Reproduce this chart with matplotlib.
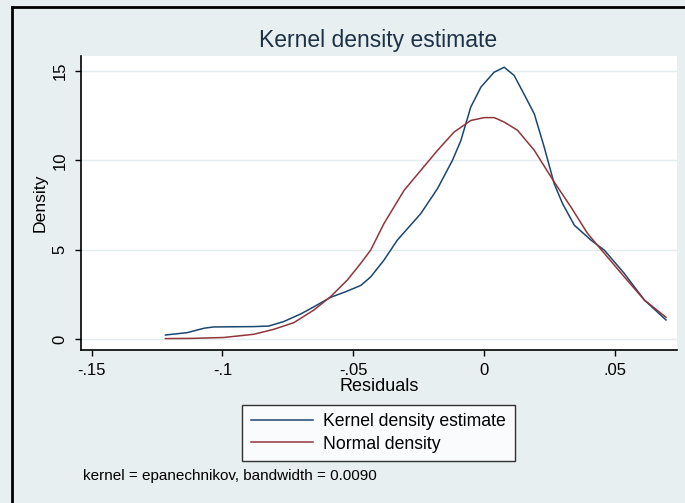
import matplotlib
matplotlib.use("Agg")
import matplotlib.pyplot as plt
from matplotlib.lines import Line2D

plt.rcParams['font.family'] = ['Liberation Sans', 'DejaVu Sans']

# values
kde_x = [-0.1218, -0.1135, -0.107, -0.1034, -0.088, -0.0823, -0.0766, -0.070,
         -0.065, -0.0586, -0.0529, -0.047, -0.0433, -0.0382, -0.0331, -0.0241,
         -0.0177, -0.012, -0.0088, -0.005, -0.0011, 0.0039, 0.0078, 0.0116,
         0.0154, 0.0193, 0.0231, 0.0269, 0.0301, 0.0346, 0.041, 0.0461,
         0.0537, 0.0614, 0.0697]
kde_y = [0.22, 0.35, 0.6, 0.67, 0.69, 0.72, 0.97, 1.40, 1.8, 2.33, 2.64, 3.0,
         3.47, 4.41, 5.53, 7.02, 8.42, 10.0, 11.1, 12.98, 14.1, 14.93, 15.21,
         14.75, 13.7, 12.6, 10.74, 8.7, 7.58, 6.37, 5.53, 4.97, 3.67, 2.18, 1.06]

norm_x = [-0.1218, -0.112, -0.0995, -0.088, -0.0803, -0.0727, -0.065, -0.0586,
          -0.0522, -0.0471, -0.0433, -0.0382, -0.0305, -0.0241, -0.0177,
          -0.0114, -0.005, 0.0001, 0.004, 0.0078, 0.0129, 0.0193, 0.0269,
          0.0333, 0.0397, 0.0461, 0.0537, 0.0614, 0.0697]
norm_y = [0.02, 0.03, 0.08, 0.26, 0.54, 0.91, 1.62, 2.37, 3.3, 4.23, 4.97,
          6.46, 8.32, 9.44, 10.56, 11.58, 12.23, 12.39, 12.39, 12.14, 11.68,
          10.56, 8.79, 7.39, 5.9, 4.79, 3.48, 2.18, 1.21]

xticks = [-0.15, -0.1, -0.05, 0, 0.05]
xtick_labels = ['-.15', '-.1', '-.05', '0', '.05']
yticks = [0, 5, 10, 15]

bg = '#e8eff1'
navy = '#1a476f'
maroon = '#90353b'

fig = plt.figure(figsize=(6.85, 5.03), dpi=100, facecolor=bg)
ax = fig.add_axes([81 / 685, 1 - 350 / 503, 596 / 685, 294 / 503])
ax.set_facecolor('white')

ax.plot(kde_x, kde_y, color=navy, lw=1.1, label='Kernel density estimate')
ax.plot(norm_x, norm_y, color=maroon, lw=1.1, label='Normal density')

ax.set_xlim(-0.1541, 0.0739)
ax.set_ylim(-0.62, 15.84)
ax.set_xticks(xticks)
ax.set_xticklabels(xtick_labels)
ax.set_yticks(yticks)
ax.set_yticklabels([str(v) for v in yticks], rotation=90, va='center')
ax.tick_params(axis='both', direction='out', length=4.5, width=1, labelsize=12,
               color='black', pad=5)
ax.grid(axis='y', color='#e3ecee', lw=1)
ax.set_axisbelow(True)
for s in ['top', 'right']:
    ax.spines[s].set_visible(False)
for s in ['left', 'bottom']:
    ax.spines[s].set_linewidth(1.2)

ax.set_xlabel('Residuals', fontsize=13, labelpad=0)
ax.set_ylabel('Density', fontsize=12.6, labelpad=4)
fig.text(378 / 685, 1 - 40 / 503, 'Kernel density estimate', fontsize=16.5,
         color='#1e3246', ha='center', va='center')

leg = fig.legend(loc='center', bbox_to_anchor=(378.5 / 685, 1 - 433 / 503),
                 fontsize=12.7, frameon=True, fancybox=False, handlelength=3.5,
                 handletextpad=0.6, borderpad=0.5, labelspacing=0.3)
leg.get_frame().set_edgecolor('black')
leg.get_frame().set_linewidth(1)

fig.text(83 / 685, 1 - 476 / 503, 'kernel = epanechnikov, bandwidth = 0.0090',
         fontsize=11, ha='left', va='center')

# frame lines at top and left edge
fig.add_artist(Line2D([11.5 / 685, 1], [1 - 6.5 / 503, 1 - 6.5 / 503],
                      transform=fig.transFigure, color='black', lw=2))
fig.add_artist(Line2D([11.5 / 685, 11.5 / 685], [0, 1 - 6.5 / 503],
                      transform=fig.transFigure, color='black', lw=2))

fig.savefig('out.png', dpi=100, facecolor=bg)
